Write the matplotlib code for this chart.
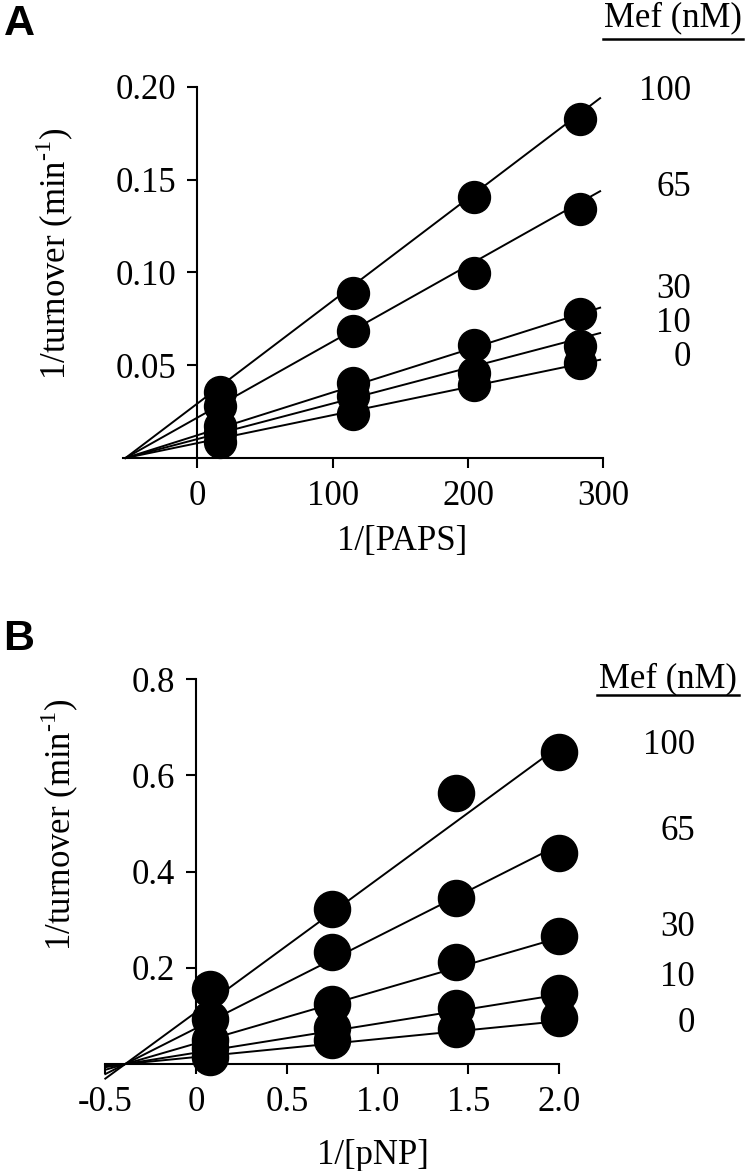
import matplotlib.pyplot as plt
import numpy as np
from matplotlib.lines import Line2D

plt.rcParams['font.family'] = ['Liberation Serif', 'DejaVu Serif']
plt.rcParams['axes.unicode_minus'] = False
plt.rcParams['mathtext.fontset'] = 'custom'
plt.rcParams['mathtext.rm'] = 'Liberation Serif'

# Mef concentrations (nM), top series first
mef = ['100', '65', '30', '10', '0']

# panel A: 1/[PAPS]
paps_x = [17, 115, 204, 283]
paps_y = [
    [0.0357, 0.0890, 0.1407, 0.1825],
    [0.0281, 0.0685, 0.0997, 0.1342],
    [0.0174, 0.0402, 0.0611, 0.0778],
    [0.0132, 0.0333, 0.0458, 0.0603],
    [0.0084, 0.0239, 0.0392, 0.0514],
]
paps_xint = -53.0          # common x-intercept of the fitted lines
paps_slopes = [5.53e-4, 4.10e-4, 2.31e-4, 1.92e-4, 1.51e-4]
paps_line_end = 297.5

# panel B: 1/[pNP]
pnp_x = [0.077, 0.748, 1.431, 2.0]
pnp_y = [
    [0.155, 0.322, 0.563, 0.648],
    [0.094, 0.233, 0.345, 0.439],
    [0.049, 0.124, 0.212, 0.265],
    [0.033, 0.074, 0.116, 0.147],
    [0.014, 0.050, 0.072, 0.096],
]
pnp_xint = -0.39
pnp_slopes = [0.2762, 0.1904, 0.1096, 0.0603, 0.0372]
pnp_line_start, pnp_line_end = -0.5, 2.0

W, H = 752, 1171
fig = plt.figure(figsize=(W / 100, H / 100), dpi=100)


def fx(px):
    return px / W


def fy(py):
    return 1 - py / H


def style_axes(ax, xticks, xlabels, yticks, ylabels):
    for s in ['top', 'right']:
        ax.spines[s].set_visible(False)
    ax.spines['left'].set_position(('data', 0))
    for s in ['left', 'bottom']:
        ax.spines[s].set_linewidth(1.5)
    ax.set_xticks(xticks)
    ax.set_xticklabels(xlabels)
    ax.set_yticks(yticks)
    ax.set_yticklabels(ylabels)
    ax.tick_params(length=7, width=1.5, labelsize=25)
    ax.tick_params(axis='x', pad=9)
    ax.tick_params(axis='y', pad=8)
    ax.patch.set_alpha(0)


# ---- panel A ----
axA = fig.add_axes([fx(122.8), fy(458), (603.5 - 122.8) / W, (458 - 86.7) / H])
axA.set_xlim(-55, 300)
axA.set_ylim(0, 0.20)
style_axes(axA, [0, 100, 200, 300], ['0', '100', '200', '300'],
           [0.05, 0.10, 0.15, 0.20], ['0.05', '0.10', '0.15', '0.20'])
for ys, k in zip(paps_y, paps_slopes):
    lx = np.array([paps_xint, paps_line_end])
    axA.plot(lx, k * (lx - paps_xint), color='k', lw=1.4, zorder=2, clip_on=False)
    axA.plot(paps_x, ys, 'o', color='k', ms=23, zorder=3, clip_on=False)

# ---- panel B ----
axB = fig.add_axes([fx(105.3), fy(1064), (559 - 105.3) / W, (1064 - 679) / H])
axB.set_xlim(-0.5, 2.0)
axB.set_ylim(0, 0.8)
style_axes(axB, [-0.5, 0, 0.5, 1.0, 1.5, 2.0], ['-0.5', '0', '0.5', '1.0', '1.5', '2.0'],
           [0.2, 0.4, 0.6, 0.8], ['0.2', '0.4', '0.6', '0.8'])
for ys, k in zip(pnp_y, pnp_slopes):
    lx = np.array([pnp_line_start, pnp_line_end])
    axB.plot(lx, k * (lx - pnp_xint), color='k', lw=1.4, zorder=2, clip_on=False)
    axB.plot(pnp_x, ys, 'o', color='k', ms=26, zorder=3, clip_on=False)

# ---- texts ----
fig.text(fx(19), fy(24), 'A', fontsize=31, fontweight='bold', family='Liberation Sans',
         ha='center', va='center')
fig.text(fx(19), fy(639), 'B', fontsize=31, fontweight='bold', family='Liberation Sans',
         ha='center', va='center')

ylab = '1/turnover (min$^{\\text{-1}}$)'
fig.text(fx(55), fy(254), ylab, fontsize=25, rotation=90, ha='center', va='center')
fig.text(fx(60), fy(825), ylab, fontsize=25, rotation=90, ha='center', va='center')
fig.text(fx(402), fy(542), '1/[PAPS]', fontsize=25, ha='center', va='center')
fig.text(fx(373), fy(1155), '1/[pNP]', fontsize=25, ha='center', va='center')

# Mef headers with underline
for cx, cy, uy, ux0, ux1 in [(673, 18, 39, 603, 743), (668, 679, 695, 597, 739)]:
    fig.text(fx(cx), fy(cy), 'Mef (nM)', fontsize=25, ha='center', va='center')
    fig.add_artist(Line2D([fx(ux0), fx(ux1)], [fy(uy), fy(uy)], color='k', lw=1.8,
                          transform=fig.transFigure))

labA_y = [92, 187, 290, 323, 357]
labB_y = [745, 832, 928, 978, 1023]
for t, y in zip(mef, labA_y):
    fig.text(fx(691), fy(y), t, fontsize=25, ha='right', va='center')
for t, y in zip(mef, labB_y):
    fig.text(fx(695), fy(y), t, fontsize=25, ha='right', va='center')

fig.savefig('out.png', dpi=100)
